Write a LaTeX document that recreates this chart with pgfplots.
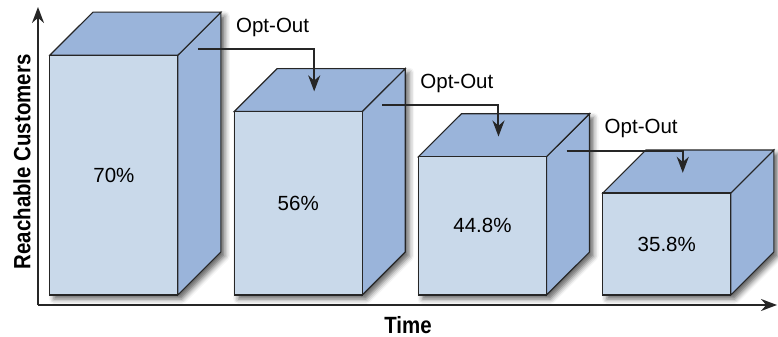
\documentclass[border=0pt]{standalone}
\usepackage{pgfplots}
\pgfplotsset{compat=1.18}
\usepackage{pgfplotstable}
\usepackage{fontspec}
\setmainfont{Liberation Sans}
\usetikzlibrary{arrows.meta,shadows.blur}

\definecolor{frontblue}{RGB}{201,217,234}
\definecolor{topblue}{RGB}{154,180,218}
\definecolor{edge}{RGB}{38,38,38}

% share of customers still reachable after each opt-out round
\pgfplotstableread{
x v
1 70
2 56
3 44.8
4 35.8
}\reach

% box geometry in axis units: base level, half width, depth offsets
\def\base{10.5}
\def\hw{0.3473}
\def\dx{0.2333}
\def\dy{10.66}

\tikzset{
  face/.style={draw=edge, line width=1.1bp, line join=miter, mark=none},
  boxshadow/.style={draw=none, fill=white, mark=none,
    blur shadow={shadow xshift=4bp, shadow yshift=-4bp, shadow blur radius=5bp, shadow opacity=60}},
  optarrow/.style={draw=edge, line width=2bp, line join=miter, mark=none,
    -{Stealth[length=16bp,width=12bp]}},
  optlabel/.style={anchor=base west, xshift=38bp, yshift=17bp, inner sep=0pt,
    font=\fontsize{20.5bp}{24bp}\selectfont},
  valuelabel/.style={anchor=center, font=\fontsize{20.5bp}{24bp}\selectfont},
}

\begin{document}
\begin{tikzpicture}
\begin{axis}[
  scale only axis, width=739bp, height=298bp,
  xmin=0.588, xmax=4.598, ymin=8.02, ymax=81.93,
  axis lines=left, clip=false,
  xtick=\empty, ytick=\empty,
  axis line style={line width=2bp, draw=edge, -{Stealth[length=16bp,width=12bp]}},
  xlabel={\scalebox{0.87}[1]{\fontsize{23.5bp}{26bp}\selectfont\bfseries Time}},
  ylabel={\scalebox{0.87}[1]{\fontsize{23.5bp}{26bp}\selectfont\bfseries Reachable Customers}},
  xlabel style={at={(axis description cs:0.5007,-0.067)}, anchor=center},
  ylabel style={at={(axis description cs:-0.0217,0.48)}, anchor=center},
]
% the boxes: shadow, side, top and front face
\pgfplotsforeachungrouped \i in {0,1,2,3}{%
  \pgfplotstablegetelem{\i}{x}\of\reach \let\xc\pgfplotsretval
  \pgfplotstablegetelem{\i}{v}\of\reach \let\vv\pgfplotsretval
  \pgfmathsetmacro\xl{\xc-\hw}%
  \pgfmathsetmacro\xr{\xc+\hw}%
  \pgfmathsetmacro\xlb{\xl+\dx}%
  \pgfmathsetmacro\xrb{\xr+\dx}%
  \pgfmathsetmacro\vb{\vv+\dy}%
  \pgfmathsetmacro\bb{\base+\dy}%
  \pgfmathsetmacro\vm{(\vv+\base)/2}%
  \edef\drawbox{%
    \noexpand\addplot[boxshadow] coordinates {(\xl,\base) (\xr,\base) (\xrb,\bb) (\xrb,\vb) (\xlb,\vb) (\xl,\vv)} -- cycle;
    \noexpand\addplot[face, fill=topblue] coordinates {(\xr,\base) (\xrb,\bb) (\xrb,\vb) (\xr,\vv)} -- cycle;
    \noexpand\addplot[face, fill=topblue] coordinates {(\xl,\vv) (\xr,\vv) (\xrb,\vb) (\xlb,\vb)} -- cycle;
    \noexpand\addplot[face, fill=frontblue] coordinates {(\xl,\base) (\xr,\base) (\xr,\vv) (\xl,\vv)} -- cycle;
    \noexpand\node[valuelabel] at (axis cs:\xc,\vm) {\vv\noexpand\%};
  }%
  \drawbox
}
% opt-out arrows from each box onto the top of the next one
\pgfplotsforeachungrouped \i in {0,1,2}{%
  \pgfmathtruncatemacro\j{\i+1}%
  \pgfplotstablegetelem{\i}{x}\of\reach \let\xa\pgfplotsretval
  \pgfplotstablegetelem{\i}{v}\of\reach \let\va\pgfplotsretval
  \pgfplotstablegetelem{\j}{x}\of\reach \let\xb\pgfplotsretval
  \pgfplotstablegetelem{\j}{v}\of\reach \let\vn\pgfplotsretval
  \pgfmathsetmacro\xs{\xa+\hw+0.1085}%
  \pgfmathsetmacro\xe{\xb-\hw+0.434}%
  \pgfmathsetmacro\yl{\va+1.5}%
  \pgfmathsetmacro\ye{\vn+5}%
  \edef\drawarrow{%
    \noexpand\addplot[optarrow] coordinates {(\xs,\yl) (\xe,\yl) (\xe,\ye)};
    \noexpand\node[optlabel] at (axis cs:\xs,\yl) {Opt-Out};
  }%
  \drawarrow
}
\end{axis}
\pgfresetboundingbox
\path (current axis.south west) ++(-38bp,-32bp) rectangle ++(778bp,337bp);
\end{tikzpicture}
\end{document}
